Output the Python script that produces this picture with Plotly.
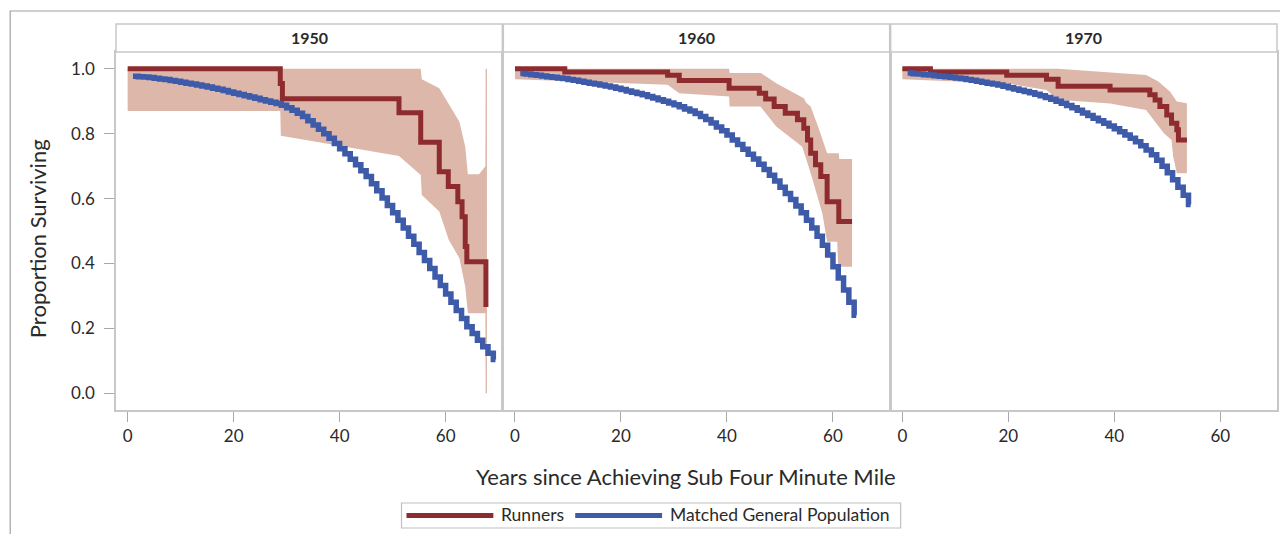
import plotly.graph_objects as go

# ---------------- data ----------------
cohorts = ["1950", "1960", "1970"]

# Runners: Kaplan-Meier step data (event time, survival)
run1950_t = [0, 28.8, 29.2, 51.2, 55.3, 58.8, 60.5, 62.3, 63.1, 63.7, 64.0, 67.6]
run1950_s = [1.0, 0.955, 0.908, 0.865, 0.774, 0.683, 0.637, 0.590, 0.544, 0.452, 0.405, 0.266]
run1960_t = [0, 9.4, 28.8, 31.0, 40.4, 46.1, 47.3, 48.9, 51.0, 53.3, 54.5, 55.2, 55.8, 56.7, 57.7, 58.9, 61.1, 63.6]
run1960_s = [1.0, 0.990, 0.980, 0.964, 0.940, 0.925, 0.907, 0.884, 0.863, 0.843, 0.817, 0.781, 0.740, 0.704, 0.668, 0.590, 0.529, 0.529]
run1970_t = [0, 5.3, 19.7, 27.2, 29.4, 39.2, 46.7, 47.7, 48.6, 49.9, 50.8, 51.8, 52.1, 53.7]
run1970_s = [1.0, 0.990, 0.980, 0.968, 0.946, 0.935, 0.920, 0.904, 0.884, 0.858, 0.832, 0.812, 0.781, 0.781]

# Runners: confidence band limits
ci1950_up_t = [0, 55.3, 55.5, 58.8, 62.6, 63.7, 64.2, 66.3, 67.5, 67.55, 67.8]
ci1950_up_v = [1.0, 1.0, 0.968, 0.94, 0.837, 0.76, 0.675, 0.675, 0.70, 1.0, 1.0]
ci1950_lo_t = [0, 28.8, 28.9, 51.2, 55.3, 55.5, 58.8, 60.6, 62.6, 63.7, 64.2, 67.5, 67.55, 67.8]
ci1950_lo_v = [0.870, 0.870, 0.794, 0.731, 0.673, 0.611, 0.56, 0.472, 0.416, 0.328, 0.246, 0.246, 0.0, 0.0]

ci1960_up_t = [0, 40.4, 40.5, 46.4, 49.3, 54.5, 55.0, 55.8, 57.4, 58.9, 61.1, 61.2, 63.6]
ci1960_up_v = [1.0, 1.0, 0.987, 0.987, 0.956, 0.909, 0.895, 0.884, 0.812, 0.740, 0.740, 0.722, 0.722]
ci1960_lo_t = [0, 28.8, 31.0, 40.4, 40.5, 46.3, 49.3, 54.2, 55.8, 58.0, 58.9, 60.8, 61.0, 63.6]
ci1960_lo_v = [0.968, 0.951, 0.925, 0.915, 0.884, 0.884, 0.822, 0.760, 0.678, 0.554, 0.467, 0.467, 0.390, 0.390]

ci1970_up_t = [0, 29.4, 46.0, 48.3, 50.5, 51.8, 53.7]
ci1970_up_v = [1.0, 1.0, 0.981, 0.961, 0.930, 0.899, 0.894]
ci1970_lo_t = [0, 19.7, 27.2, 29.4, 39.2, 46.0, 47.9, 49.4, 50.8, 51.1, 51.8, 53.7]
ci1970_lo_v = [0.968, 0.955, 0.935, 0.905, 0.893, 0.873, 0.832, 0.801, 0.781, 0.730, 0.678, 0.678]

# Matched general population (annual survival)
gp1950_years = list(range(1, 70))
gp1950 = [0.977, 0.976, 0.975, 0.973, 0.971, 0.969, 0.967, 0.964, 0.962, 0.959,
          0.956, 0.953, 0.950, 0.947, 0.944, 0.940, 0.937, 0.933, 0.929, 0.925,
          0.921, 0.917, 0.913, 0.909, 0.905, 0.901, 0.897, 0.893, 0.888, 0.880,
          0.872, 0.863, 0.853, 0.840, 0.827, 0.814, 0.800, 0.786, 0.770, 0.754,
          0.738, 0.721, 0.704, 0.686, 0.668, 0.646, 0.624, 0.602, 0.579, 0.556,
          0.533, 0.509, 0.484, 0.459, 0.434, 0.409, 0.384, 0.358, 0.332, 0.306,
          0.280, 0.255, 0.230, 0.205, 0.184, 0.163, 0.143, 0.123, 0.104]
gp1960_years = list(range(1, 65))
gp1960 = [0.986, 0.984, 0.982, 0.980, 0.978, 0.976, 0.974, 0.972, 0.970, 0.967,
          0.965, 0.962, 0.959, 0.956, 0.953, 0.950, 0.947, 0.944, 0.940, 0.936,
          0.932, 0.928, 0.924, 0.920, 0.915, 0.910, 0.905, 0.900, 0.895, 0.889,
          0.883, 0.876, 0.870, 0.862, 0.853, 0.844, 0.833, 0.821, 0.809, 0.796,
          0.781, 0.767, 0.752, 0.737, 0.722, 0.706, 0.690, 0.672, 0.654, 0.635,
          0.616, 0.597, 0.577, 0.556, 0.533, 0.509, 0.484, 0.456, 0.426, 0.390,
          0.355, 0.318, 0.280, 0.240]
gp1970_years = list(range(1, 55))
gp1970 = [0.987, 0.985, 0.984, 0.982, 0.981, 0.979, 0.977, 0.976, 0.974, 0.972,
          0.970, 0.967, 0.965, 0.962, 0.959, 0.956, 0.953, 0.950, 0.946, 0.942,
          0.938, 0.934, 0.930, 0.926, 0.922, 0.917, 0.912, 0.906, 0.900, 0.894,
          0.887, 0.880, 0.872, 0.864, 0.856, 0.848, 0.840, 0.832, 0.824, 0.815,
          0.806, 0.796, 0.786, 0.775, 0.763, 0.750, 0.735, 0.718, 0.700, 0.680,
          0.658, 0.635, 0.610, 0.582]

x_ticks = [0, 20, 40, 60]
y_ticks = [0.0, 0.2, 0.4, 0.6, 0.8, 1.0]
x_title = "Years since Achieving Sub Four Minute Mile"
y_title = "Proportion Surviving"
legend_labels = ["Runners", "Matched General Population"]

# ---------------- style ----------------
OFF = 8  # default page body margin
W, H = 1288 - OFF, 534 - OFF
ML, MR, MT, MB = 116 - OFF, 9, 52 - OFF, 124
PW, PH = W - ML - MR, H - MT - MB
RED = "#8E2B2E"
BLUE = "#3E5BAA"
BAND = "#DDB8AA"
FRAME = "#c8c8c8"
FONT = "Lato, Open Sans, sans-serif"
TXT = "#2a2a2a"

def px_x(p):
    # page pixel -> paper coordinate
    return (p - OFF - ML) / PW

def px_y(p):
    return (H - MB - (p - OFF)) / PH

panels = [
    (run1950_t, run1950_s, ci1950_up_t, ci1950_up_v, ci1950_lo_t, ci1950_lo_v, gp1950_years, gp1950),
    (run1960_t, run1960_s, ci1960_up_t, ci1960_up_v, ci1960_lo_t, ci1960_lo_v, gp1960_years, gp1960),
    (run1970_t, run1970_s, ci1970_up_t, ci1970_up_v, ci1970_lo_t, ci1970_lo_v, gp1970_years, gp1970),
]
domains = [[0, 387 / PW], [388 / PW, 775 / PW], [776 / PW, 1]]

fig = go.Figure()
for i, (rt, rs, ut, uv, lt, lv, gy, gv) in enumerate(panels):
    xa = "x" if i == 0 else f"x{i+1}"
    ya = "y" if i == 0 else f"y{i+1}"
    fig.add_trace(go.Scatter(
        x=ut + lt[::-1], y=uv + lv[::-1], xaxis=xa, yaxis=ya,
        fill="toself", fillcolor=BAND, line=dict(width=0, color=BAND),
        mode="lines", hoverinfo="skip", showlegend=False))
    fig.add_trace(go.Scatter(
        x=rt, y=rs, xaxis=xa, yaxis=ya, mode="lines",
        line=dict(color=RED, width=5, shape="hv"), showlegend=False, name="Runners"))
    fig.add_trace(go.Scatter(
        x=gy + [gy[-1] + 0.4], y=gv + [gv[-1]], xaxis=xa, yaxis=ya, mode="lines",
        line=dict(color=BLUE, width=5.5, shape="hv"), showlegend=False,
        name="Matched General Population"))

axis_common = dict(showline=True, mirror=True, linecolor=FRAME, linewidth=1.5,
                   showgrid=False, zeroline=False)
layout = dict(
    width=W, height=H, paper_bgcolor="white", plot_bgcolor="white",
    margin=dict(l=ML, r=MR, t=MT, b=MB, pad=0), showlegend=False,
    font=dict(family=FONT, color=TXT),
)
for i in range(3):
    xk = "xaxis" if i == 0 else f"xaxis{i+1}"
    yk = "yaxis" if i == 0 else f"yaxis{i+1}"
    layout[xk] = dict(axis_common, domain=domains[i], range=[-2.2, 70.7],
                      anchor="y" if i == 0 else f"y{i+1}",
                      tickvals=x_ticks, ticktext=[str(v) for v in x_ticks],
                      ticks="outside", ticklen=10, tickwidth=1.2, tickcolor="#aaaaaa",
                      tickfont=dict(size=17, color=TXT, family=FONT))
    ydict = dict(axis_common, domain=[0, 1], range=[-0.052, 1.052],
                 anchor="x" if i == 0 else f"x{i+1}")
    if i == 0:
        ydict.update(tickvals=y_ticks, ticktext=[f"{v:.1f}" for v in y_ticks],
                     ticks="outside", ticklen=10, tickwidth=1.2, tickcolor="#aaaaaa",
                     ticklabelstandoff=6,
                     tickfont=dict(size=17, color=TXT, family=FONT))
    else:
        ydict.update(showticklabels=False, ticks="")
    layout[yk] = ydict
fig.update_layout(**layout)

shapes = []
annotations = []
# outer frame
shapes.append(dict(type="rect", xref="paper", yref="paper",
                   x0=px_x(10), x1=px_x(1288 + 20), y0=px_y(11), y1=px_y(534 + 20),
                   line=dict(color="#a0a0a0", width=1.2), layer="below"))
# strip headers
for i, c in enumerate(cohorts):
    d = domains[i]
    shapes.append(dict(type="rect", xref="paper", yref="paper",
                       x0=d[0], x1=d[1], y0=1.0, y1=px_y(24),
                       line=dict(color=FRAME, width=1.5), fillcolor="white"))
    annotations.append(dict(text=f"<b>{c}</b>", xref="paper", yref="paper",
                            x=(d[0] + d[1]) / 2, y=px_y(37.5), showarrow=False,
                            xanchor="center", yanchor="middle",
                            font=dict(size=16, color=TXT, family=FONT)))
# axis titles
annotations.append(dict(text=x_title, xref="paper", yref="paper", x=px_x(687), y=px_y(476),
                        showarrow=False, xanchor="center", yanchor="middle",
                        font=dict(size=22, color=TXT, family=FONT)))
annotations.append(dict(text=y_title, xref="paper", yref="paper", x=px_x(37), y=px_y(239),
                        showarrow=False, xanchor="center", yanchor="middle", textangle=-90,
                        font=dict(size=22, color=TXT, family=FONT)))
# legend (drawn)
shapes.append(dict(type="rect", xref="paper", yref="paper",
                   x0=px_x(402), x1=px_x(902), y0=px_y(503), y1=px_y(528),
                   line=dict(color="#c0c0c0", width=1.2), fillcolor="white"))
for (x0, x1, col, tx, lab) in [(407, 494, RED, 500, legend_labels[0]),
                               (576, 663, BLUE, 669, legend_labels[1])]:
    shapes.append(dict(type="line", xref="paper", yref="paper",
                       x0=px_x(x0), x1=px_x(x1), y0=px_y(515.5), y1=px_y(515.5),
                       line=dict(color=col, width=5)))
    annotations.append(dict(text=lab, xref="paper", yref="paper", x=px_x(tx), y=px_y(514.5),
                            showarrow=False, xanchor="left", yanchor="middle",
                            font=dict(size=17.5, color=TXT, family=FONT)))
fig.update_layout(shapes=shapes, annotations=annotations)

fig.write_html("out.html")
